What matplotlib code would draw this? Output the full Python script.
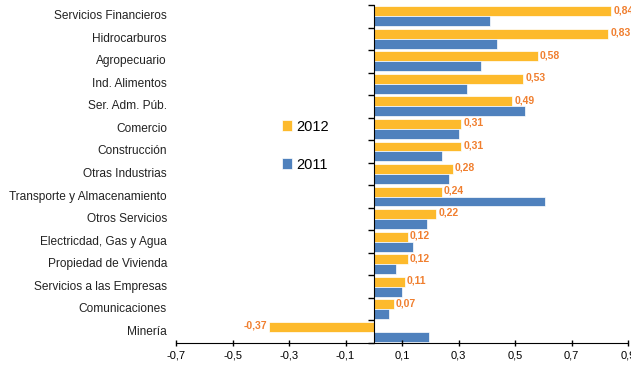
import matplotlib
matplotlib.use('Agg')
import matplotlib.pyplot as plt
import matplotlib.transforms as mtransforms
import numpy as np

categories = ['Servicios Financieros', 'Hidrocarburos', 'Agropecuario', 'Ind. Alimentos',
              'Ser. Adm. Púb.', 'Comercio', 'Construcción', 'Otras Industrias',
              'Transporte y Almacenamiento', 'Otros Servicios', 'Electricdad, Gas y Agua',
              'Propiedad de Vivienda', 'Servicios a las Empresas', 'Comunicaciones', 'Minería']
vals_2012 = [0.84, 0.83, 0.58, 0.53, 0.49, 0.31, 0.31, 0.28, 0.24, 0.22, 0.12, 0.12, 0.11, 0.07, -0.37]
vals_2011 = [0.41, 0.435, 0.38, 0.33, 0.535, 0.30, 0.24, 0.265, 0.605, 0.19, 0.14, 0.08, 0.10, 0.055, 0.195]
xticks = [-0.7, -0.5, -0.3, -0.1, 0.1, 0.3, 0.5, 0.7, 0.9]

yellow = '#FDBA2C'
blue = '#4F81BD'
orange = '#F07F2F'

plt.rcParams['font.family'] = ['Liberation Sans', 'DejaVu Sans']

fig = plt.figure(figsize=(6.31, 3.67), dpi=100)
ax = fig.add_axes([176/631, 24/367, 452/631, 338/367])

n = len(categories)
y = np.arange(n)[::-1]
h = 0.44
ax.barh(y + h/2, vals_2012, height=h, color=yellow, edgecolor='white', linewidth=0.5, label='2012')
ax.barh(y - h/2, vals_2011, height=h, color=blue, edgecolor='white', linewidth=0.5, label='2011')

for yy, v in zip(y, vals_2012):
    txt = '{:.2f}'.format(v).replace('.', ',')
    if v >= 0:
        ax.text(v + 0.008, yy + h/2 + 0.05, txt, ha='left', va='center', color=orange,
                fontsize=7.5, fontweight='bold')
    else:
        ax.text(v - 0.008, yy + h/2 + 0.05, txt, ha='right', va='center', color=orange,
                fontsize=7.5, fontweight='bold')

ax.set_xlim(-0.7, 0.9)
ax.set_ylim(-0.5, n - 0.5)
ax.set_xticks(xticks)
ax.set_xticklabels(['{:.1f}'.format(t).replace('.', ',') for t in xticks], fontsize=8)
ax.tick_params(axis='x', direction='inout', length=5, width=1, pad=3)

# category spine at zero, ticks between categories
ax.spines['left'].set_position(('data', 0))
ax.spines['top'].set_visible(False)
ax.spines['right'].set_visible(False)
ax.set_yticks(np.arange(n + 1) - 0.5)
ax.set_yticklabels([])
ax.tick_params(axis='y', direction='out', length=4, width=1)

trans = mtransforms.blended_transform_factory(ax.transAxes, ax.transData)
for yy, c in zip(y, categories):
    ax.text(-0.02, yy, c, transform=trans, ha='right', va='center', fontsize=8.6, color='#222222')

ax.legend(loc='upper left', bbox_to_anchor=(0.205, 0.70), frameon=False, fontsize=10.5,
          handlelength=0.7, handleheight=0.7, handletextpad=0.3, labelspacing=1.65)

fig.savefig('out.png', dpi=100)
